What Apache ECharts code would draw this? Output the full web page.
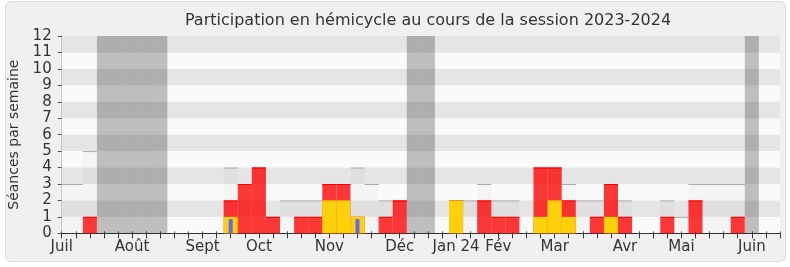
<!DOCTYPE html>
<html><head><meta charset="utf-8">
<script src="https://cdn.jsdelivr.net/npm/echarts@6/dist/echarts.min.js"></script>
<style>
html,body{margin:0;padding:0;background:#fff;}
#wrap{position:relative;width:790px;height:267px;}
#box{position:absolute;left:5px;top:1px;width:779px;height:259px;background:#f0f0f0;border:1px solid #dcdcdc;border-radius:6px;}
#chart{position:absolute;left:0;top:0;width:790px;height:267px;}
</style></head>
<body><div id="wrap"><div id="box"></div><div id="chart"></div></div>
<script>
// Week index 0..51 (tick = one week)
const monthWeeks = [0, 5, 10, 14, 19, 24, 28, 31, 35, 40, 44, 49];
const monthNames = ['Juil', 'Août', 'Sept', 'Oct', 'Nov', 'Déc', 'Jan 24', 'Fév', 'Mar', 'Avr', 'Mai', 'Juin'];
const vacationWeeks = [3, 4, 5, 6, 7, 25, 26, 49];
// séances per week (grey)
const seances = [3,3,5,0,0,0,0,0,0,0,0,0,4,3,4,1,2,2,2,3,3,4,3,2,2,0,0,0,2,2,3,2,2,0,4,4,3,2,2,3,2,0,0,2,1,3,3,3,3,0,0,0];
// présences (red)
const presences = [0,0,1,0,0,0,0,0,0,0,0,0,2,3,4,1,0,1,1,3,3,1,0,1,2,0,0,0,2,0,2,1,1,0,4,4,2,0,1,3,1,0,0,1,0,2,0,0,1,0,0,0];
// interventions (yellow)
const interventions = [0,0,0,0,0,0,0,0,0,0,0,0,1,0,0,0,0,0,0,2,2,1,0,0,0,0,0,0,2,0,0,0,0,0,1,2,1,0,0,1,0,0,0,0,0,0,0,0,0,0,0,0];
// questions (blue)
const questions = [0,0,0,0,0,0,0,0,0,0,0,0,0.87,0,0,0,0,0,0,0,0,0.87,0,0,0,0,0,0,0,0,0,0,0,0,0,0,0,0,0,0,0,0,0,0,0,0,0,0,0,0,0,0];
const yTicks = [0,1,2,3,4,5,6,7,8,9,10,11,12];

const FONT = 'DejaVu Sans';
const chart = echarts.init(document.getElementById('chart'));

function toData(arr){ const out=[]; arr.forEach((v,i)=>{ if(v>0) out.push([i,v]); }); return out; }

function barRender(fill, topColor, widthFrac){
  return function(params, api){
    const k = api.value(0), v = api.value(1);
    const cs = params.coordSys;
    const a = api.coord([k - 0.5*widthFrac, v]);
    const b = api.coord([k + 0.5*widthFrac, 0]);
    let x0 = Math.max(a[0], cs.x), x1 = Math.min(b[0], cs.x + cs.width);
    if (x1 <= x0) return null;
    const children = [{type:'rect', shape:{x:x0, y:a[1], width:x1-x0, height:b[1]-a[1]}, style:{fill:fill}}];
    if (topColor) children.push({type:'rect', shape:{x:x0, y:a[1], width:x1-x0, height:1}, style:{fill:topColor}});
    return {type:'group', children:children};
  };
}
function vacRender(params, api){
  const k = api.value(0);
  const cs = params.coordSys;
  const a = api.coord([k - 0.5, yTicks[yTicks.length-1]]);
  const b = api.coord([k + 0.5, 0]);
  let x0 = Math.max(a[0], cs.x), x1 = Math.min(b[0], cs.x + cs.width);
  return {type:'rect', shape:{x:x0, y:a[1], width:x1-x0, height:b[1]-a[1]}, style:{fill:'rgba(0,0,0,0.24)'}};
}

chart.setOption({
  animation:false,
  graphic:[{type:'text', x:428, y:21, style:{text:'Participation en hémicycle au cours de la session 2023-2024', font:'16px "DejaVu Sans"', fill:'#333', textAlign:'center', textVerticalAlign:'middle'}}],
  grid:{left:61.7, right:10, top:36, bottom:33.7, containLabel:false, outerBoundsMode:'none'},
  xAxis:[{
    type:'value', min:0, max:51, interval:1,
    axisLine:{show:true, onZero:false, lineStyle:{color:'#333', width:1}},
    axisTick:{show:true, length:5, lineStyle:{color:'#333'}},
    splitLine:{show:false},
    axisLabel:{show:true, margin:6, color:'#333', fontFamily:FONT, fontSize:15,
      formatter:function(v){ const i = monthWeeks.indexOf(v); return i>=0 ? monthNames[i] : ''; }}
  },{
    type:'value', position:'top', min:0, max:51, interval:1,
    axisLine:{show:false}, axisTick:{show:true, length:2, lineStyle:{color:'#555'}},
    axisLabel:{show:false}, splitLine:{show:false}
  }],
  yAxis:[{
    type:'value', min:0, max:12, interval:1,
    name:'Séances par semaine', nameLocation:'middle', nameRotate:90, nameGap:40,
    nameTextStyle:{fontFamily:FONT, fontSize:14, color:'#333'},
    axisLine:{show:true, lineStyle:{color:'#333'}},
    axisTick:{show:true, length:4, lineStyle:{color:'#555'}},
    axisLabel:{color:'#333', fontFamily:FONT, fontSize:15, margin:10},
    splitLine:{show:false},
    splitArea:{show:true, areaStyle:{color:['#fafafa','#e5e5e5']}}
  },{
    type:'value', position:'right', min:0, max:12, interval:1,
    axisLine:{show:true, lineStyle:{color:'#c8c8c8'}}, axisTick:{show:false}, axisLabel:{show:false}, splitLine:{show:false}
  }],
  series:[
    {type:'custom', name:'Séances', renderItem:barRender('rgba(0,0,0,0.025)', '#aaaaaa', 1), data:toData(seances), z:2},
    {type:'custom', name:'Vacances', renderItem:vacRender, data:vacationWeeks.map(k=>[k,12]), z:3},
    {type:'custom', name:'Présences', renderItem:barRender('rgba(255,0,0,0.78)', '#ff0000', 1), data:toData(presences), z:4},
    {type:'custom', name:'Interventions', renderItem:barRender('#fdd10a', null, 1), data:toData(interventions), z:5},
    {type:'custom', name:'Questions', renderItem:barRender('#6666ff', null, 0.28), data:toData(questions), z:6}
  ]
});
</script></body></html>
